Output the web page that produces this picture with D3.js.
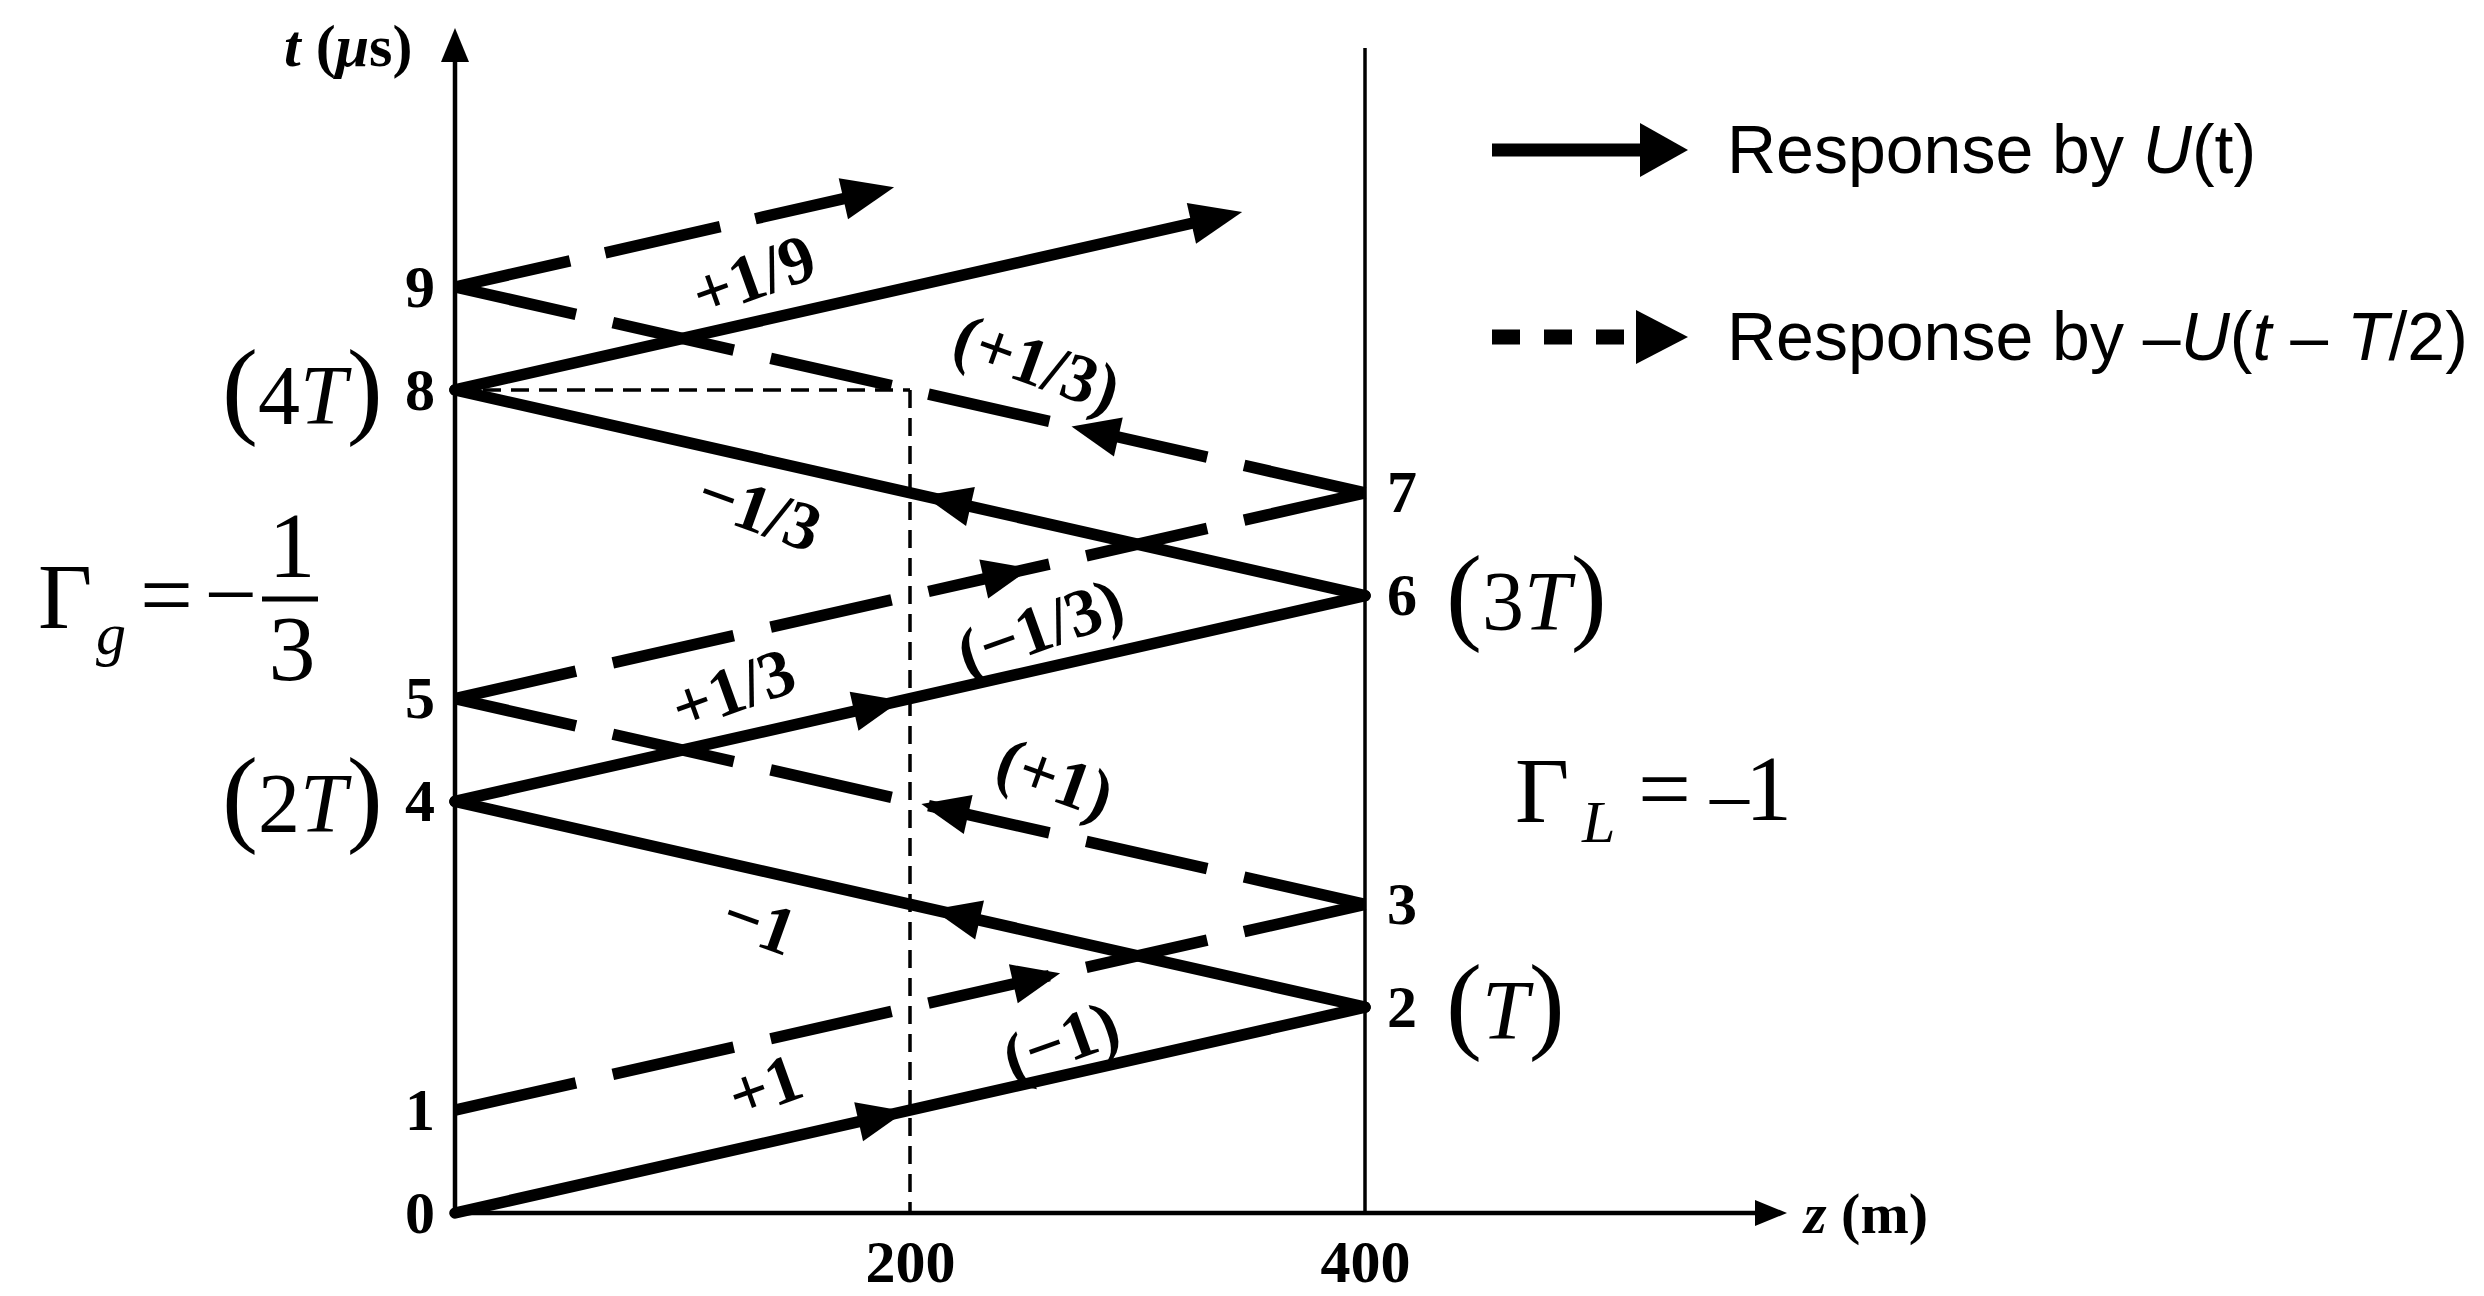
<!DOCTYPE html>
<html>
<head>
<meta charset="utf-8">
<script src="https://cdn.jsdelivr.net/npm/d3@7"></script>
<style>
  body { margin: 0; background: #fff; }
  svg { display: block; }
  .serif { font-family: "Liberation Serif", "DejaVu Serif", serif; }
  .sans { font-family: "Liberation Sans", Arial, sans-serif; }
</style>
</head>
<body>
<svg id="chart" width="2484" height="1296"></svg>
<script>
// bounce diagram: solid = response to U(t), dashed = response to -U(t - T/2)
var solidZ = [0, 400, 0, 400, 0, 346];
var solidT = [0, 2, 4, 6, 8, 9.73];
var dashZ = [0, 400, 0, 400, 0, 193];
var dashT = [1, 3, 5, 7, 9, 9.97];

// z of the arrow tip drawn on each segment
var solidArrowZ = [198, 210, 196, 206];
var dashArrowZ = [266, 205, 253, 271];

// wave amplitude labels
var labelText = ["+1", "(\u22121)", "\u22121", "(+1)", "+1/3", "(\u22121/3)", "\u22121/3", "(+1/3)", "+1/9"];
var labelZ = [136, 266, 134, 264, 122, 257, 134, 256, 131];
var labelT = [1.24, 1.68, 2.83, 4.24, 5.1, 5.7, 6.84, 8.27, 9.12];
var labelDir = [1, 1, -1, -1, 1, 1, -1, -1, 1]; // 1 = toward load

var tLeftTicks = [0, 1, 4, 5, 8, 9];
var tRightTicks = [2, 3, 6, 7];
var zTicks = [200, 400];

var svg = d3.select("#chart");

var x = d3.scaleLinear().domain([0, 400]).range([455, 1365]);
var y = d3.scaleLinear().domain([0, 9]).range([1213, 287]);

function arrowHead(g, tx, ty, ang, len, wid) {
  g.append("path")
    .attr("d", "M0,0L" + (-len) + "," + (-wid / 2) + "L" + (-len) + "," + (wid / 2) + "Z")
    .attr("transform", "translate(" + tx + "," + ty + ") rotate(" + ang + ")")
    .attr("fill", "#000");
}

function angleOf(z0, t0, z1, t1) {
  return Math.atan2(y(t1) - y(t0), x(z1) - x(z0)) * 180 / Math.PI;
}

// stretch the dash pattern so a segment starts and ends on a dash
function fitDash(len, dash, gap) {
  var n = Math.max(1, Math.round((len - dash) / (dash + gap)));
  var k = len / (n * (dash + gap) + dash);
  return (dash * k) + "," + (gap * k);
}

// ---- axes lines ----
var axes = svg.append("g");
axes.append("line")
  .attr("x1", x(0)).attr("y1", y(0)).attr("x2", x(0)).attr("y2", 50)
  .attr("stroke", "#000").attr("stroke-width", 4.5);
arrowHead(axes, x(0), 28, -90, 34, 28);

axes.append("line")
  .attr("x1", x(0) - 2).attr("y1", y(0)).attr("x2", 1760).attr("y2", y(0))
  .attr("stroke", "#000").attr("stroke-width", 4.5);
arrowHead(axes, 1787, y(0), 0, 32, 26);

axes.append("line")
  .attr("x1", x(400)).attr("y1", 48).attr("x2", x(400)).attr("y2", y(0))
  .attr("stroke", "#000").attr("stroke-width", 3.5);

// thin dashed guides at z = 200 and t = 8
axes.append("line")
  .attr("x1", x(200)).attr("y1", y(8)).attr("x2", x(200)).attr("y2", y(0))
  .attr("stroke", "#000").attr("stroke-width", 3.5).attr("stroke-dasharray", "18,10");
axes.append("line")
  .attr("x1", x(0)).attr("y1", y(8)).attr("x2", x(200)).attr("y2", y(8))
  .attr("stroke", "#000").attr("stroke-width", 3.5).attr("stroke-dasharray", "18,10");

// ---- tick labels via d3 axes ----
var axL = svg.append("g").attr("class", "serif")
  .attr("transform", "translate(" + x(0) + ",0)")
  .call(d3.axisLeft(y).tickValues(tLeftTicks).tickSize(0).tickPadding(20).tickFormat(d3.format("d")));
var axR = svg.append("g").attr("class", "serif")
  .attr("transform", "translate(" + x(400) + ",0)")
  .call(d3.axisRight(y).tickValues(tRightTicks).tickSize(0).tickPadding(22).tickFormat(d3.format("d")));
var axB = svg.append("g").attr("class", "serif")
  .attr("transform", "translate(0," + y(0) + ")")
  .call(d3.axisBottom(x).tickValues(zTicks).tickSize(0).tickPadding(26).tickFormat(d3.format("d")));
[axL, axR, axB].forEach(function(a) {
  a.select(".domain").remove();
  a.selectAll("text")
    .attr("font-family", "Liberation Serif, serif")
    .attr("font-size", 60)
    .attr("font-weight", "bold")
    .attr("fill", "#000");
});

// ---- wave paths ----
var waves = svg.append("g");

function drawPath(zs, ts, arrowZ, dashed) {
  for (var i = 0; i < zs.length - 1; i++) {
    var z0 = zs[i], t0 = ts[i], z1 = zs[i + 1], t1 = ts[i + 1];
    var ang = angleOf(z0, t0, z1, t1);
    var last = (i === zs.length - 2);
    var x2 = x(z1), y2 = y(t1);
    if (last) {
      x2 -= 30 * Math.cos(ang * Math.PI / 180);
      y2 -= 30 * Math.sin(ang * Math.PI / 180);
    }
    var ln = waves.append("line")
      .attr("x1", x(z0)).attr("y1", y(t0)).attr("x2", x2).attr("y2", y2)
      .attr("stroke", "#000").attr("stroke-width", 11.5)
      .attr("stroke-linecap", dashed ? "butt" : "round");
    if (dashed) {
      var segLen = Math.hypot(x2 - x(z0), y2 - y(t0));
      ln.attr("stroke-dasharray", last ? "118,36" : fitDash(segLen, 118, 36));
    }
    if (last) {
      arrowHead(waves, x(z1), y(t1), ang, 52, 42);
    } else {
      var za = arrowZ[i];
      var ta = t0 + (t1 - t0) * (za - z0) / (z1 - z0);
      arrowHead(waves, x(za), y(ta), ang, 48, 40);
    }
  }
}
drawPath(solidZ, solidT, solidArrowZ, false);
drawPath(dashZ, dashT, dashArrowZ, true);

// ---- amplitude labels ----
var lineAng = Math.abs(angleOf(0, 0, 400, 2)) + 7;
svg.append("g").selectAll("text")
  .data(labelText)
  .enter().append("text")
  .attr("class", "serif")
  .attr("text-anchor", "middle")
  .attr("font-size", 68)
  .attr("font-weight", "bold")
  .attr("transform", function(d, i) {
    return "translate(" + x(labelZ[i]) + "," + y(labelT[i]) + ") rotate(" + (-labelDir[i] * lineAng) + ")";
  })
  .attr("dy", "0.35em")
  .text(function(d) { return d; });

// ---- axis titles ----
var tt = svg.append("text").attr("class", "serif").attr("x", 284).attr("y", 66)
  .attr("font-size", 60).attr("font-weight", "bold");
tt.append("tspan").attr("font-style", "italic").text("t");
tt.append("tspan").text(" (");
tt.append("tspan").attr("font-style", "italic").text("\u03bc");
tt.append("tspan").text("s)");

var zt = svg.append("text").attr("class", "serif").attr("x", 1804).attr("y", 1233)
  .attr("font-size", 58).attr("font-weight", "bold");
zt.append("tspan").attr("font-style", "italic").text("z");
zt.append("tspan").text(" (m)");

// ---- time annotations (nT) ----
function paren(xp, yb, inner) {
  var t = svg.append("text").attr("class", "serif").attr("x", xp).attr("y", yb).attr("font-size", 84);
  t.append("tspan").attr("font-size", 108).text("(");
  if (inner) t.append("tspan").text(inner);
  t.append("tspan").attr("font-style", "italic").text("T");
  t.append("tspan").attr("font-size", 108).text(")");
}
paren(222, 424, "4");
paren(222, 832, "2");
paren(1446, 630, "3");
paren(1446, 1039, "");

// ---- reflection coefficients ----
var gg = svg.append("g").attr("class", "serif").attr("font-size", 94);
gg.append("text").attr("x", 38).attr("y", 628).text("\u0393");
gg.append("text").attr("x", 96).attr("y", 654).attr("font-size", 60).attr("font-style", "italic").text("g");
gg.append("text").attr("x", 140).attr("y", 626).text("=");
gg.append("text").attr("x", 204).attr("y", 626).text("\u2212");
gg.append("line").attr("x1", 262).attr("x2", 318).attr("y1", 599).attr("y2", 599)
  .attr("stroke", "#000").attr("stroke-width", 5);
gg.append("text").attr("x", 292).attr("y", 577).attr("text-anchor", "middle").text("1");
gg.append("text").attr("x", 292).attr("y", 680).attr("text-anchor", "middle").text("3");

var gl = svg.append("g").attr("class", "serif").attr("font-size", 94);
gl.append("text").attr("x", 1515).attr("y", 822).text("\u0393");
gl.append("text").attr("x", 1582).attr("y", 842).attr("font-size", 60).attr("font-style", "italic").text("L");
gl.append("text").attr("x", 1638).attr("y", 820).text("=");
var m1 = gl.append("text").attr("x", 1710).attr("y", 820);
m1.append("tspan").attr("font-size", 78).text("\u2013");
m1.append("tspan").attr("dx", -4).text("1");

// ---- legend ----
var leg = svg.append("g");
leg.append("line").attr("x1", 1492).attr("x2", 1645).attr("y1", 150).attr("y2", 150)
  .attr("stroke", "#000").attr("stroke-width", 13);
arrowHead(leg, 1688, 150, 0, 48, 54);
leg.append("line").attr("x1", 1492).attr("x2", 1636).attr("y1", 337).attr("y2", 337)
  .attr("stroke", "#000").attr("stroke-width", 15).attr("stroke-dasharray", "28,24");
arrowHead(leg, 1688, 337, 0, 52, 54);

var l1 = leg.append("text").attr("class", "sans").attr("x", 1727).attr("y", 173).attr("font-size", 68);
l1.append("tspan").text("Response by ");
l1.append("tspan").attr("font-style", "italic").text("U");
l1.append("tspan").text("(t)");

var l2 = leg.append("text").attr("class", "sans").attr("x", 1727).attr("y", 360).attr("font-size", 68);
l2.append("tspan").text("Response by \u2013");
l2.append("tspan").attr("font-style", "italic").text("U");
l2.append("tspan").text("(");
l2.append("tspan").attr("font-style", "italic").text("t");
l2.append("tspan").text(" \u2013 ");
l2.append("tspan").attr("font-style", "italic").text("T");
l2.append("tspan").text("/2)");
</script>
</body>
</html>
